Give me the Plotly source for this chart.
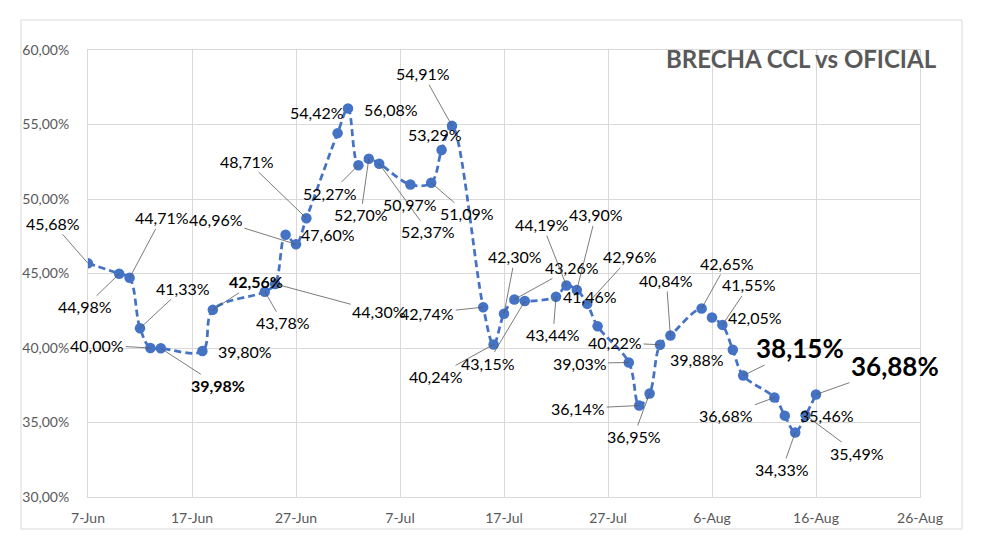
import plotly.graph_objects as go

# ---------------- data ----------------
dates = [
    "2024-06-07", "2024-06-10", "2024-06-11", "2024-06-12", "2024-06-13", "2024-06-14",
    "2024-06-18", "2024-06-19", "2024-06-24", "2024-06-25", "2024-06-26", "2024-06-27",
    "2024-06-28", "2024-07-01", "2024-07-02", "2024-07-03", "2024-07-04", "2024-07-05",
    "2024-07-08", "2024-07-10", "2024-07-11", "2024-07-12", "2024-07-15", "2024-07-16",
    "2024-07-17", "2024-07-18", "2024-07-19", "2024-07-22", "2024-07-23", "2024-07-24",
    "2024-07-25", "2024-07-26", "2024-07-29", "2024-07-30", "2024-07-31", "2024-08-01",
    "2024-08-02", "2024-08-05", "2024-08-06", "2024-08-07", "2024-08-08", "2024-08-09",
    "2024-08-12", "2024-08-13", "2024-08-14", "2024-08-15", "2024-08-16",
]
brecha = [
    45.68, 44.98, 44.71, 41.33, 40.00, 39.98,
    39.80, 42.56, 43.78, 44.30, 47.60, 46.96,
    48.71, 54.42, 56.08, 52.27, 52.70, 52.37,
    50.97, 51.09, 53.29, 54.91, 42.74, 40.24,
    42.30, 43.26, 43.15, 43.44, 44.19, 43.90,
    42.96, 41.46, 39.03, 36.14, 36.95, 40.22,
    40.84, 42.65, 42.05, 41.55, 39.88, 38.15,
    36.68, 35.46, 34.33, 35.49, 36.88,
]
x_tick_vals = ["2024-06-07", "2024-06-17", "2024-06-27", "2024-07-07", "2024-07-17",
               "2024-07-27", "2024-08-06", "2024-08-16", "2024-08-26"]
x_tick_text = ["7-Jun", "17-Jun", "27-Jun", "7-Jul", "17-Jul", "27-Jul", "6-Aug", "16-Aug", "26-Aug"]
y_tick_vals = [30, 35, 40, 45, 50, 55, 60]
chart_title = "BRECHA CCL vs OFICIAL"


def pct(v):
    return f"{v:.2f}".replace(".", ",") + "%"


y_tick_text = [pct(t) for t in y_tick_vals]

# ---------------- label placement (pixel offsets from each point, leader line?) ----------------
label_layout = [
    (-35, -40, True), (-34, 33, True), (32, -60, True), (43, -40, True), (-53, -3, True), (57, 37, True),
    (43, 1, False), (43, -28, True), (18, 31, True), (104, 28, True), (42, 0, False), (-80, -25, True),
    (-59, -57, True), (-21, -21, False), (43, 1, False), (-28, 28, True), (-8, 56, True), (49, 68, True),
    (0, 20, False), (36, 31, True), (-7, -15, False), (-29, -52, True), (-56, 6, True), (-58, 32, True),
    (11, -57, True), (58, -32, True), (-37, 62, True), (-3, 38, True), (-24, -61, True), (19, -75, True),
    (43, -47, True), (-8, -30, False), (-49, 1, True), (-61, 3, True), (-16, 43, True), (-45, -2, True),
    (-4, -55, True), (25, -45, True), (43, 0, False), (27, -40, True), (-36, 10, False), (57, -28, True),
    (-48, 18, True), (42, 0, False), (-13, 37, True), (51, 38, True), (79, -28, True),
]
label_bold = {5: "bold", 7: "bold", 41: "big", 46: "big"}

BLUE = "#4472C4"
GRID = "#d9d9d9"
AXIS_TXT = "#595959"
FONT = "Lato"

fig = go.Figure()
fig.add_trace(go.Scatter(
    x=dates, y=brecha, mode="lines+markers",
    line=dict(color=BLUE, width=2.75, dash="7px,4px", shape="spline", smoothing=1),
    marker=dict(color=BLUE, size=10.5),
    showlegend=False, hoverinfo="skip",
))

annotations = []
for i, (d, v) in enumerate(zip(dates, brecha)):
    ax, ay, leader = label_layout[i]
    txt = pct(v)
    style = label_bold.get(i)
    size = 16
    if style == "bold":
        txt = f"<b>{txt}</b>"
    elif style == "big":
        txt = f"<b>{txt}</b>"
        size = 26
    annotations.append(dict(
        x=d, y=v, xref="x", yref="y", text=txt, showarrow=True,
        ax=ax, ay=ay, arrowhead=0, arrowwidth=0.8, standoff=0,
        arrowcolor="#595959" if leader else "rgba(0,0,0,0)",
        font=dict(family=FONT, size=size, color="#000000"),
    ))

annotations.append(dict(
    xref="paper", yref="paper", x=(939 - 88) / 832, y=(497 - 58) / 447,
    xanchor="right", yanchor="middle", showarrow=False,
    text=f"<b>{chart_title}</b>",
    font=dict(family=FONT, size=24, color=AXIS_TXT),
))

fig.update_layout(
    width=981, height=545,
    margin=dict(l=88, r=61, t=50, b=48),
    paper_bgcolor="white", plot_bgcolor="white",
    annotations=annotations,
    shapes=[dict(
        type="rect", xref="paper", yref="paper",
        x0=(21 - 88) / 832, x1=(962 - 88) / 832,
        y0=(497 - 529) / 447, y1=(497 - 20) / 447,
        line=dict(color=GRID, width=1), fillcolor="rgba(0,0,0,0)", layer="below",
    )],
)
fig.update_xaxes(
    type="date", range=["2024-06-07", "2024-08-26"],
    tickvals=x_tick_vals, ticktext=x_tick_text,
    showgrid=True, gridcolor=GRID, gridwidth=1,
    showline=True, linecolor=GRID, linewidth=1, mirror=True,
    ticks="", ticklabelstandoff=8,
    tickfont=dict(family=FONT, size=14, color=AXIS_TXT),
    zeroline=False,
)
fig.update_yaxes(
    range=[30, 60], tickvals=y_tick_vals, ticktext=y_tick_text,
    showgrid=True, gridcolor=GRID, gridwidth=1,
    showline=True, linecolor=GRID, linewidth=1, mirror=True,
    ticks="", ticklabelstandoff=15,
    tickfont=dict(family=FONT, size=14, color=AXIS_TXT),
    zeroline=False,
)

fig.write_html("out.html")
